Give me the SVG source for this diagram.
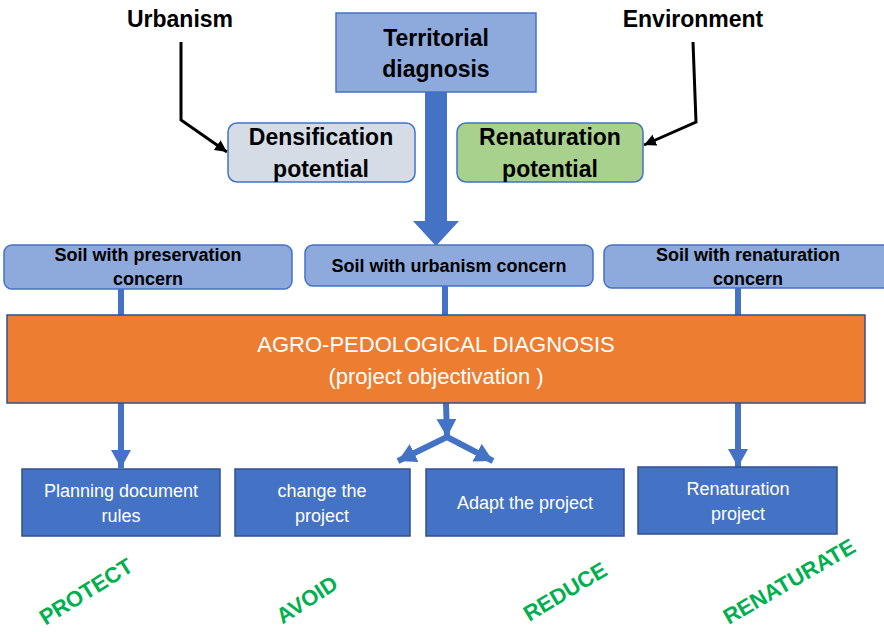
<svg xmlns="http://www.w3.org/2000/svg" width="884" height="632" viewBox="0 0 884 632">
<style>
text{font-family:"Liberation Sans",Arial,sans-serif}
.bt{font-weight:bold;fill:#000;text-anchor:middle}
.wt{fill:#fff;text-anchor:middle;font-size:18px}
.gt{font-weight:bold;fill:#00B050;text-anchor:middle;font-size:22px}
.soil{fill:#8EA9DB;stroke:#4472C4;stroke-width:1.5}
.act{fill:#4472C4;stroke:#2F528F;stroke-width:1.5}
.bl{stroke:#4472C4;stroke-width:6;fill:none}
.blk{stroke:#000;stroke-width:3;fill:none}
</style>
<defs>
<marker id="ab" viewBox="0 0 18 20" refX="18" refY="10" markerWidth="18" markerHeight="20" orient="auto" markerUnits="userSpaceOnUse"><path d="M0,0 L18,10 L0,20 z" fill="#4472C4"/></marker>
<marker id="ak" viewBox="0 0 12 12" refX="12" refY="6" markerWidth="12" markerHeight="12" orient="auto" markerUnits="userSpaceOnUse"><path d="M0,0 L12,6 L0,12 z" fill="#000"/></marker>
</defs>
<g id="connectors">
<polygon points="425,92 447,92 447,221 459,221 436,246 413,221 425,221" fill="#4472C4"/>
<polyline class="blk" points="181,42 181,120 227,152" marker-end="url(#ak)"/>
<polyline class="blk" points="693,42 696,122 644,145" marker-end="url(#ak)"/>
<line class="bl" x1="121" y1="289" x2="121" y2="315"/>
<line class="bl" x1="445" y1="286" x2="445" y2="315"/>
<line class="bl" x1="738" y1="288" x2="738" y2="315"/>
<line class="bl" x1="121" y1="403" x2="121" y2="468" marker-end="url(#ab)"/>
<line class="bl" x1="446" y1="403" x2="447" y2="437" marker-end="url(#ab)"/>
<line class="bl" x1="447" y1="437" x2="398" y2="461" marker-end="url(#ab)"/>
<line class="bl" x1="447" y1="437" x2="493" y2="461" marker-end="url(#ab)"/>
<line class="bl" x1="738" y1="403" x2="738" y2="467" marker-end="url(#ab)"/>
</g>
<g id="urbanism"><text class="bt" x="180" y="27" font-size="23">Urbanism</text></g>
<g id="environment"><text class="bt" x="693" y="27" font-size="23">Environment</text></g>
<g id="territorial">
<rect x="336" y="13" width="200" height="79" fill="#8EA9DB" stroke="#4472C4" stroke-width="1.5"/>
<text class="bt" x="436" y="46" font-size="23">Territorial</text>
<text class="bt" x="436" y="77" font-size="23">diagnosis</text>
</g>
<g id="densification">
<rect x="228" y="123" width="187" height="59" rx="9" fill="#D6DCE5" stroke="#4472C4" stroke-width="1.5"/>
<text class="bt" x="321" y="145" font-size="23">Densification</text>
<text class="bt" x="321" y="177" font-size="23">potential</text>
</g>
<g id="renaturation-potential">
<rect x="457" y="123" width="186" height="59" rx="9" fill="#A9D18E" stroke="#4472C4" stroke-width="1.5"/>
<text class="bt" x="550" y="145" font-size="23">Renaturation</text>
<text class="bt" x="550" y="177" font-size="23">potential</text>
</g>
<g id="soil-preservation">
<rect class="soil" x="4" y="245" width="288" height="44" rx="8"/>
<text class="bt" x="148" y="261" font-size="18">Soil with preservation</text>
<text class="bt" x="148" y="285" font-size="18">concern</text>
</g>
<g id="soil-urbanism">
<rect class="soil" x="305" y="245" width="288" height="41" rx="8"/>
<text class="bt" x="449" y="272" font-size="18">Soil with urbanism concern</text>
</g>
<g id="soil-renaturation">
<rect class="soil" x="604" y="245" width="290" height="43" rx="8"/>
<text class="bt" x="748" y="261" font-size="18">Soil with renaturation</text>
<text class="bt" x="748" y="285" font-size="18">concern</text>
</g>
<g id="agro">
<rect x="7" y="315" width="858" height="88" fill="#ED7D31" stroke="#2F528F" stroke-width="1.5"/>
<text x="436" y="352" fill="#fff" text-anchor="middle" font-size="22">AGRO-PEDOLOGICAL DIAGNOSIS</text>
<text x="436" y="384" fill="#fff" text-anchor="middle" font-size="22">(project objectivation )</text>
</g>
<g id="planning">
<rect class="act" x="22" y="469" width="198" height="67"/>
<text class="wt" x="121" y="497">Planning document</text>
<text class="wt" x="121" y="522">rules</text>
</g>
<g id="change">
<rect class="act" x="235" y="469" width="175" height="67"/>
<text class="wt" x="322" y="497">change the</text>
<text class="wt" x="322" y="522">project</text>
</g>
<g id="adapt">
<rect class="act" x="426" y="469" width="198" height="67"/>
<text class="wt" x="525" y="509">Adapt the project</text>
</g>
<g id="renaturation-project">
<rect class="act" x="638" y="467" width="199" height="67"/>
<text class="wt" x="738" y="495">Renaturation</text>
<text class="wt" x="738" y="520">project</text>
</g>
<g id="labels">
<text class="gt" transform="translate(90,598) rotate(-32)">PROTECT</text>
<text class="gt" transform="translate(311,606) rotate(-33)">AVOID</text>
<text class="gt" transform="translate(569,598) rotate(-31)">REDUCE</text>
<text class="gt" transform="translate(793,588) rotate(-30)">RENATURATE</text>
</g>
</svg>
